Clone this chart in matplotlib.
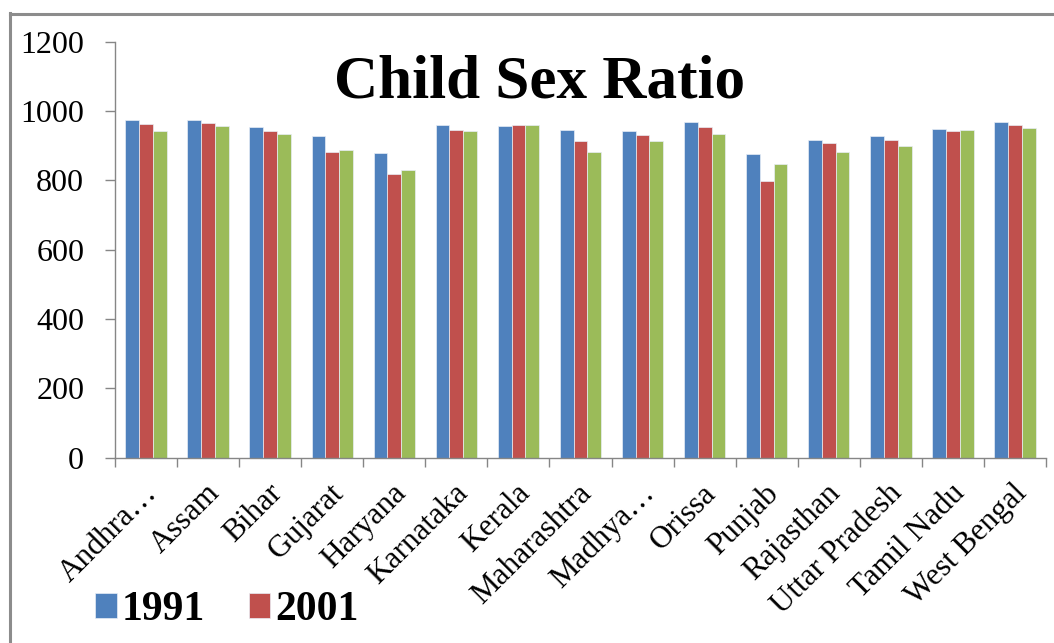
import matplotlib
matplotlib.use("Agg")
import matplotlib.pyplot as plt
from matplotlib.lines import Line2D
from matplotlib.patches import Patch
import numpy as np

states = ["Andhra…", "Assam", "Bihar", "Gujarat", "Haryana", "Karnataka",
          "Kerala", "Maharashtra", "Madhya…", "Orissa", "Punjab",
          "Rajasthan", "Uttar Pradesh", "Tamil Nadu", "West Bengal"]
csr_1991 = [975, 975, 953, 928, 879, 960, 958, 946, 941, 967, 875, 916, 927, 948, 967]
csr_2001 = [961, 965, 942, 883, 819, 946, 960, 913, 932, 953, 798, 909, 916, 942, 960]
csr_2011 = [943, 957, 933, 886, 830, 943, 960, 883, 912, 934, 846, 883, 899, 946, 950]
years = ["1991", "2001", "2011"]
legend_years = ["1991", "2001"]
colors = ["#4F81BD", "#C0504D", "#9BBB59"]
yticks = [0, 200, 400, 600, 800, 1000, 1200]

W, H = 1054, 643
fig = plt.figure(figsize=(W / 100, H / 100), dpi=100)
serif = "Liberation Serif"
axis_grey = "#868686"

ax = fig.add_axes([115 / W, 1 - 457.7 / H, (1046 - 115) / W, (457.7 - 41.6) / H])

x = np.arange(len(states))
bw = 0.222
for k, (vals, col, yr) in enumerate(zip([csr_1991, csr_2001, csr_2011], colors, years)):
    ax.bar(x + (k - 1) * bw, vals, width=bw, color=col,
           edgecolor="#E8EEF6", linewidth=0.5, label=yr, zorder=2)

ax.set_xlim(-0.5, len(states) - 0.5)
ax.set_ylim(0, 1200)
ax.set_yticks(yticks)
ax.set_yticklabels([str(v) for v in yticks], fontfamily=serif, fontsize=23)
ax.tick_params(axis="y", direction="out", length=7.2, width=1, color=axis_grey, pad=15)

ax.set_xticks(x)
ax.set_xticks(np.arange(len(states) + 1) - 0.5, minor=True)
ax.tick_params(axis="x", which="major", length=0, pad=0)
ax.tick_params(axis="x", which="minor", direction="out", length=6.3, width=1, color=axis_grey)
ax.set_xticklabels([])
for i, s in enumerate(states):
    ax.annotate(s, xy=(i, 0), xycoords="data", xytext=(-3, -21), textcoords="offset pixels",
                ha="right", va="top", rotation=45, rotation_mode="anchor",
                fontfamily=serif, fontsize=22.5)

for side in ("top", "right"):
    ax.spines[side].set_visible(False)
for side in ("left", "bottom"):
    ax.spines[side].set_color(axis_grey)
    ax.spines[side].set_linewidth(1)

fig.text(540 / W, 1 - 97 / H, "Child Sex Ratio", ha="center", va="baseline",
         fontfamily=serif, fontweight="bold", fontsize=44)

# outer frame of the chart area
fig.add_artist(Line2D([10 / W, 10 / W], [0, 1 - 13 / H], color="#8C8C8C", lw=2.2,
                      transform=fig.transFigure))
fig.add_artist(Line2D([10 / W, 1], [1 - 14 / H, 1 - 14 / H], color="#8C8C8C", lw=2.2,
                      transform=fig.transFigure))

leg_handles = [Patch(facecolor=colors[i], edgecolor="#E8EEF6", linewidth=0.5)
               for i in range(len(legend_years))]
fig.legend(leg_handles, legend_years, loc="upper left", bbox_to_anchor=(95 / W, 1 - 591 / H),
           ncol=2, frameon=False, borderpad=0, borderaxespad=0,
           handlelength=0.52, handleheight=0.55, handletextpad=0.12, columnspacing=1.05,
           prop={"family": serif, "weight": "bold", "size": 30})

fig.savefig("out.png", dpi=100)
